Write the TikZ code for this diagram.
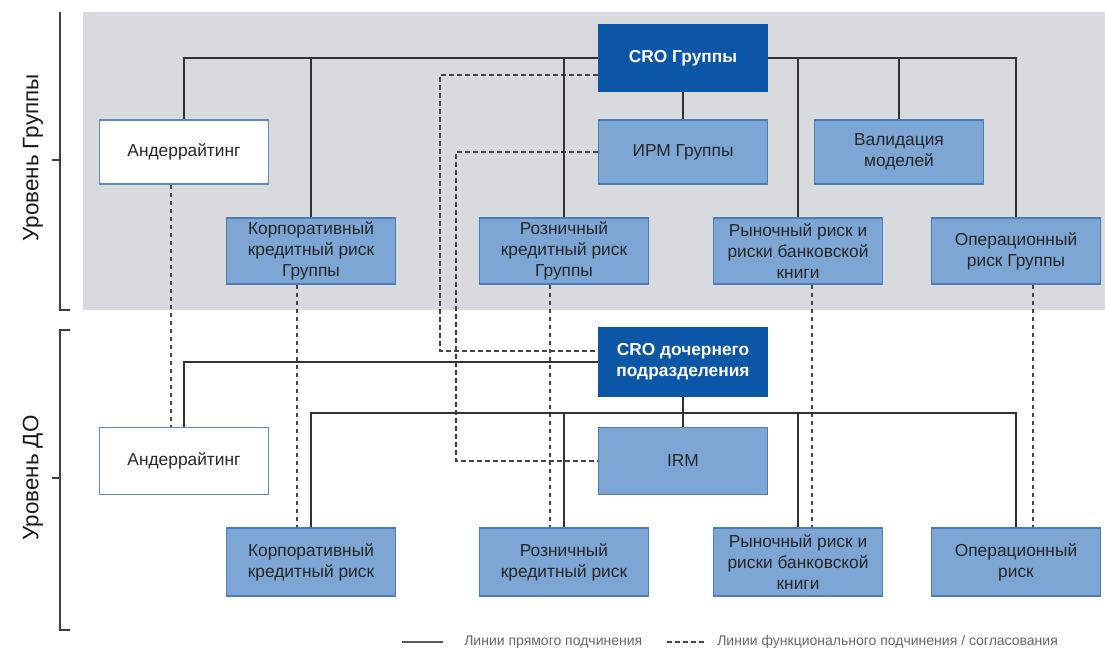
\documentclass[tikz,border=0pt]{standalone}
\usepackage{fontspec}
\setmainfont{Liberation Sans}
\definecolor{bggray}{HTML}{D8DADD}
\definecolor{darkblue}{HTML}{0B56A6}
\definecolor{lightblue}{HTML}{7DA6D5}
\definecolor{boxline}{HTML}{4C7DB8}
\definecolor{wline}{HTML}{5B8AC0}
\definecolor{linecol}{HTML}{333333}
\definecolor{dashcol}{HTML}{444444}
\definecolor{legtext}{HTML}{666666}
\begin{document}
\begin{tikzpicture}[x=0.75pt,y=-0.75pt,
  boxbase/.style={rectangle, line width=0.8pt, minimum width=126.75pt, align=center, inner sep=1pt,
    font=\fontsize{13}{15.6}\selectfont},
  box/.style={boxbase, draw=boxline, fill=lightblue, text=black!85},
  wbox/.style={boxbase, draw=wline, fill=white, text=black!85},
  dbox/.style={boxbase, draw=darkblue, fill=darkblue, text=white, font=\fontsize{13}{15.6}\selectfont\bfseries},
  top/.style={minimum height=49.5pt},
  mid/.style={minimum height=48pt},
  low/.style={minimum height=51pt},
  sline/.style={draw=linecol, line width=1pt},
  dline/.style={draw=dashcol, line width=1.5pt, dash pattern=on 3.5pt off 2.5pt},
  axisline/.style={draw=black!75, line width=1pt},
  lvl/.style={rotate=90, font=\fontsize{16.8}{18}\selectfont, text=black!90},
  leg/.style={anchor=west, font=\fontsize{10.5}{12}\selectfont, text=legtext, inner sep=0pt}
]
\useasboundingbox (0,0) rectangle (1105,652);
\fill[bggray] (83,12) rectangle (1105,310);

% axis brackets
\draw[axisline] (60,12) -- (60,310) -- (70,310);
\draw[axisline] (52,160) -- (60,160);
\draw[axisline] (70,330) -- (60,330) -- (60,630) -- (70,630);
\draw[axisline] (52,478) -- (60,478);
\node[lvl] (lg) at (33,158) {Уровень Группы};
\node[lvl] (ld) at (33,478) {Уровень ДО};

% nodes
\node[dbox, top] (cro) at (683,58) {CRO Группы};
\node[box, mid] (irmG) at (683,152) {ИРМ Группы};
\node[box, mid] (val) at (899,152) {Валидация\\моделей};
\node[wbox, mid] (undG) at (184,152) {Андеррайтинг};
\node[box, top] (corpG) at (311,251) {Корпоративный\\кредитный риск\\Группы};
\node[box, top] (rozG) at (564,251) {Розничный\\кредитный риск\\Группы};
\node[box, top] (rynG) at (798,251) {Рыночный риск и\\риски банковской\\книги};
\node[box, top] (opG) at (1016,251) {Операционный\\риск Группы};

\node[dbox, low] (croD) at (683,362) {CRO дочернего\\подразделения};
\node[box, minimum height=50pt] (irm) at (683,461) {IRM};
\node[wbox, minimum height=50pt] (undD) at (184,461) {Андеррайтинг};
\node[box, low] (corpD) at (311,562) {Корпоративный\\кредитный риск};
\node[box, low] (rozD) at (564,562) {Розничный\\кредитный риск};
\node[box, low] (rynD) at (798,562) {Рыночный риск и\\риски банковской\\книги};
\node[box, low] (opD) at (1016,562) {Операционный\\риск};

% coordinates
\coordinate (d1a) at (440,75);
\coordinate (d1b) at (440,351);
\coordinate (d2a) at (456,152);
\coordinate (busD) at (683,413);

% dashed (functional) lines
\draw[dline] (cro.west |- d1a) -- (d1a) -- (d1b) -- (croD.west |- d1b);
\draw[dline] (irmG.west) -- (d2a) |- (irm.west);
\draw[dline] ([xshift=-9.75pt]undG.south) -- ([xshift=-9.75pt]undD.north);
\draw[dline] ([xshift=-10.5pt]corpG.south) -- ([xshift=-10.5pt]corpD.north);
\draw[dline] ([xshift=-10.5pt]rozG.south) -- ([xshift=-10.5pt]rozD.north);
\draw[dline] ([xshift=10.5pt]rynG.south) -- ([xshift=10.5pt]rynD.north);
\draw[dline] ([xshift=12.75pt]opG.south) -- ([xshift=12.75pt]opD.north);

% solid (direct) lines - group level
\draw[sline] (cro.west) -| (undG.north);
\draw[sline] (corpG.north |- cro.west) -- (corpG.north);
\draw[sline] (rozG.north |- cro.west) -- (rozG.north);
\draw[sline] (cro.east) -| (opG.north);
\draw[sline] (rynG.north |- cro.east) -- (rynG.north);
\draw[sline] (val.north |- cro.east) -- (val.north);
\draw[sline] (cro.south) -- (irmG.north);

% solid (direct) lines - subsidiary level
\draw[sline] (croD.west) -| (undD.north);
\draw[sline] (croD.south) -- (irm.north);
\draw[sline] (corpD.north) |- (busD) -| (opD.north);
\draw[sline] (rozD.north |- busD) -- (rozD.north);
\draw[sline] (rynD.north |- busD) -- (rynD.north);

% legend
\coordinate (l1a) at (402,642);
\coordinate (l1b) at (443,642);
\coordinate (l2a) at (667,642);
\coordinate (l2b) at (706,642);
\draw[sline, draw=black!65, line width=1.3pt] (l1a) -- (l1b);
\node[leg] (lt1) at (464,642) {Линии прямого подчинения};
\draw[dline, line width=1.2pt] (l2a) -- (l2b);
\node[leg] (lt2) at (717,642) {Линии функционального подчинения / согласования};
\end{tikzpicture}
\end{document}
